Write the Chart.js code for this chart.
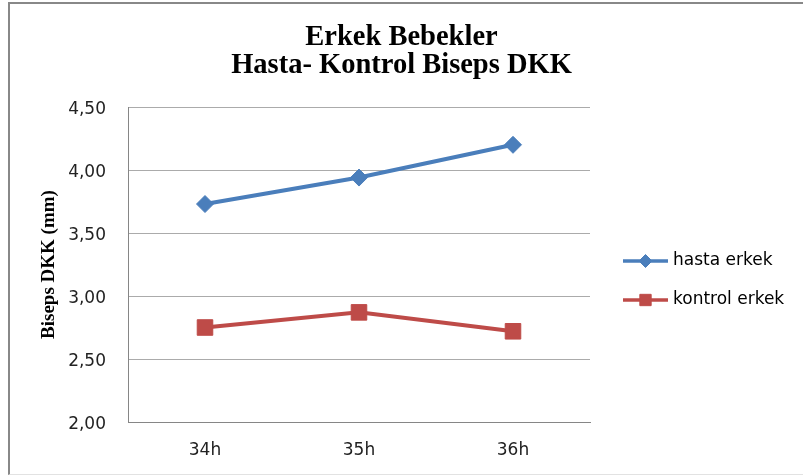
<!DOCTYPE html>
<html>
<head>
<meta charset="utf-8">
<script src="https://cdn.jsdelivr.net/npm/chart.js@4"></script>
<style>
  html, body { margin: 0; padding: 0; background: #fff; overflow: hidden; }
  #wrap { position: relative; width: 803px; height: 476px; overflow: hidden; }
  #frame { position: absolute; left: 8px; top: 2px; width: 795px; height: 473px;
           border-top: 2px solid #888; border-left: 2px solid #888; border-bottom: 1px solid #e2e2e2; box-sizing: border-box; }
  canvas { position: absolute; left: 0; top: 0; }
</style>
</head>
<body>
<div id="wrap">
  <div id="frame"></div>
  <canvas id="c" width="803" height="476"></canvas>
</div>
<script>
// ---- data ----
const categories = ['34h', '35h', '36h'];
const hastaErkek = [3.73, 3.94, 4.20];
const kontrolErkek = [2.75, 2.87, 2.72];
const seriesNames = ['hasta erkek', 'kontrol erkek'];
const titleLines = ['Erkek Bebekler', 'Hasta- Kontrol Biseps DKK'];
const yAxisTitle = 'Biseps DKK (mm)';
const yMin = 2.0, yMax = 4.5, yStep = 0.5;

const BLUE = '#4A7EBB';
const RED = '#BE4B48';

const legendPlugin = {
  id: 'lineLegend',
  afterDraw(chart) {
    const ctx = chart.ctx;
    const ds = chart.data.datasets;
    const x0 = 623, x1 = 668, tx = 673;
    const yc = 280.5, gap = 39;
    ds.forEach((d, i) => {
      const y = yc + (i - (ds.length - 1) / 2) * gap;
      ctx.save();
      ctx.strokeStyle = d.borderColor;
      ctx.lineWidth = 3.5;
      ctx.beginPath();
      ctx.moveTo(x0, y);
      ctx.lineTo(x1, y);
      ctx.stroke();
      ctx.fillStyle = d.borderColor;
      ctx.strokeStyle = d.borderColor;
      ctx.lineWidth = 1;
      Chart.helpers.drawPoint(ctx, {
        pointStyle: d.pointStyle,
        radius: d.pointStyle === 'rect' ? 8 : 6.5,
        rotation: 0,
        borderWidth: 1
      }, (x0 + x1) / 2, y);
      ctx.fillStyle = '#000';
      ctx.font = '17px "DejaVu Sans"';
      ctx.textBaseline = 'middle';
      ctx.textAlign = 'left';
      ctx.fillText(d.label, tx, y);
      ctx.restore();
    });
  }
};

new Chart(document.getElementById('c'), {
  type: 'line',
  data: {
    labels: categories,
    datasets: [
      {
        label: seriesNames[0],
        data: hastaErkek,
        borderColor: BLUE,
        backgroundColor: BLUE,
        borderWidth: 4,
        pointStyle: 'rectRot',
        pointRadius: 8.5,
        pointHoverRadius: 8.5,
        pointBorderWidth: 1,
        pointBackgroundColor: BLUE,
        pointBorderColor: BLUE,
        tension: 0
      },
      {
        label: seriesNames[1],
        data: kontrolErkek,
        borderColor: RED,
        backgroundColor: RED,
        borderWidth: 4,
        pointStyle: 'rect',
        pointRadius: 11,
        pointHoverRadius: 11,
        pointBorderWidth: 1,
        pointBackgroundColor: RED,
        pointBorderColor: RED,
        tension: 0
      }
    ]
  },
  options: {
    responsive: false,
    animation: false,
    events: [],
    layout: { padding: { left: 0, right: 0, top: 0, bottom: 0 } },
    plugins: {
      legend: { display: false },
      tooltip: { enabled: false },
      title: {
        display: true,
        text: titleLines,
        color: '#000',
        font: { family: '"Liberation Serif", "Times New Roman", serif', size: 28.5, weight: 'bold', lineHeight: 0.965 },
        padding: { top: 24, bottom: 28 }
      }
    },
    scales: {
      x: {
        offset: true,
        afterFit(scale) { scale.height = 54; },
        grid: { display: false, drawTicks: false },
        border: { display: true, color: '#868686', width: 1 },
        ticks: {
          color: '#222',
          padding: 18,
          font: { family: '"DejaVu Sans"', size: 17 }
        }
      },
      y: {
        min: yMin,
        max: yMax,
        afterFit(scale) { scale.width = 128; },
        grid: { color: '#ababab', lineWidth: 1, drawTicks: false },
        border: { display: true, color: '#868686', width: 1 },
        ticks: {
          stepSize: yStep,
          color: '#222',
          padding: 22,
          labelOffset: 3,
          font: { family: '"DejaVu Sans"', size: 17 },
          callback: (v) => Number(v).toFixed(2).replace('.', ',')
        },
        title: {
          display: true,
          text: yAxisTitle,
          color: '#000',
          font: { family: '"Liberation Serif", "Times New Roman", serif', size: 19, weight: 'bold', lineHeight: 1.2 },
          padding: { top: 37.6, bottom: 0 }
        }
      },
      spacer: {
        type: 'linear',
        position: 'right',
        display: true,
        afterFit(scale) { scale.width = 213; },
        grid: { display: false, drawTicks: false },
        border: { display: false },
        ticks: { display: false }
      }
    }
  },
  plugins: [legendPlugin]
});
</script>
</body>
</html>
